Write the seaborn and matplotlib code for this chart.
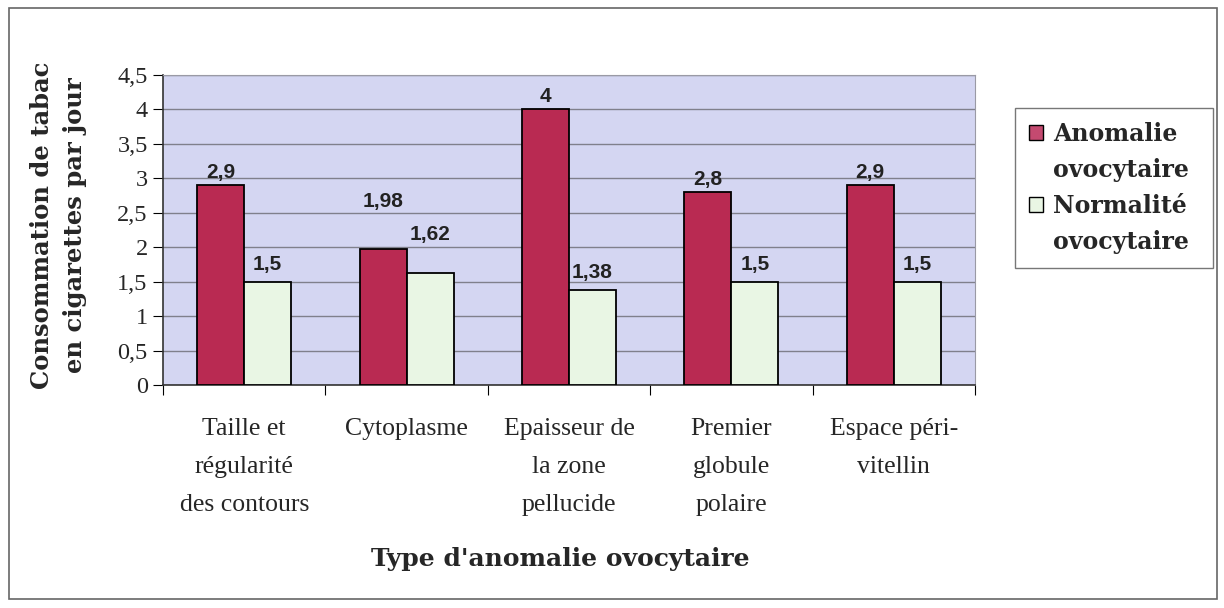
import pandas as pd
import matplotlib.pyplot as plt
import seaborn as sns
from matplotlib.patches import Rectangle, Patch

# data
categories = ['Taille et\nrégularité\ndes contours', 'Cytoplasme', 'Epaisseur de\nla zone\npellucide',
              'Premier\nglobule\npolaire', 'Espace péri-\nvitellin']
anomalie = [2.9, 1.98, 4.0, 2.8, 2.9]
normalite = [1.5, 1.62, 1.38, 1.5, 1.5]
series_names = ['Anomalie\novocytaire', 'Normalité\novocytaire']
y_ticks = [0, 0.5, 1, 1.5, 2, 2.5, 3, 3.5, 4, 4.5]
colors = ['#b92a52', '#e9f6e4']

df = pd.DataFrame({
    'categorie': categories * 2,
    'valeur': anomalie + normalite,
    'serie': [series_names[0]] * len(categories) + [series_names[1]] * len(categories),
})

sns.set_style('white')
plt.rcParams['font.family'] = ['Liberation Serif', 'DejaVu Serif']
bold_serif = 'DejaVu Serif'

fig = plt.figure(figsize=(12.24, 6.08), dpi=100)
ax = fig.add_axes([163 / 1224, 1 - 385 / 608, (975 - 163) / 1224, (385 - 75) / 608])
ax.set_facecolor('#d4d6f2')

sns.barplot(data=df, x='categorie', y='valeur', hue='serie', order=categories,
            hue_order=series_names, palette=colors, saturation=1,
            width=0.58, edgecolor='black', linewidth=1.3, ax=ax, zorder=3, legend=False)

ax.set_ylim(0, 4.5)
ax.set_xlim(-0.5, len(categories) - 0.5)
ax.set_yticks(y_ticks)
ax.set_yticklabels([f'{t:g}'.replace('.', ',') for t in y_ticks], fontsize=17.5)
ax.yaxis.grid(True, color='#80808c', linewidth=1.0, zorder=0)
ax.set_axisbelow(True)

# tick marks at group boundaries, labels at group centres
ax.set_xticks([i - 0.5 for i in range(len(categories) + 1)])
ax.set_xticklabels([])
ax.set_xticks(range(len(categories)), minor=True)
ax.set_xticklabels(categories, minor=True, fontsize=18.5, linespacing=1.92)
ax.tick_params(axis='x', which='major', length=7, direction='out', color='black', bottom=True)
ax.tick_params(axis='x', which='minor', length=0, pad=24)
ax.tick_params(axis='y', length=7, direction='out', color='black', left=True, pad=4)

for side in ['top', 'right']:
    ax.spines[side].set_color('#9a9aa5')
for side in ['left', 'bottom']:
    ax.spines[side].set_color('#333333')
    ax.spines[side].set_linewidth(1.2)

# value labels (a couple of them sit higher in the original)
for k, (cont, vals) in enumerate(zip(ax.containers, [anomalie, normalite])):
    for bar, v in zip(cont, vals):
        txt = f'{v:g}'.replace('.', ',')
        dy = 0.05 if k == 0 else 0.11
        if v == 1.98:
            dy = 0.55
        elif v == 1.62:
            dy = 0.42
        ax.text(bar.get_x() + bar.get_width() / 2, v + dy, txt, ha='center', va='bottom',
                fontsize=15, fontweight='bold', family='Liberation Sans', color='#222222')

ax.set_xlabel("Type d'anomalie ovocytaire", fontsize=18, fontweight='bold', family=bold_serif)
ax.xaxis.set_label_coords((560 - 163) / 812, -(547 - 385) / 310)
ax.set_ylabel('Consommation de tabac\nen cigarettes par jour', fontsize=17.5, fontweight='bold',
              family=bold_serif, linespacing=1.5)
ax.yaxis.set_label_coords(-(163 - 87) / 812, (385 - 225) / 310)

# legend: marker sits next to the first line of each entry
handles, labels = [], []
for name, col in zip(series_names, colors):
    first, second = name.split('\n')
    handles += [Patch(facecolor=col, edgecolor='black', linewidth=1.0),
                Patch(facecolor='none', edgecolor='none')]
    labels += [first, second]
handles[0].set_facecolor('#c44a70')
leg = ax.legend(handles, labels, loc='upper left',
                bbox_to_anchor=(1015 / 1224, 1 - 267 / 608, 198 / 1224, 159 / 608),
                bbox_transform=fig.transFigure, mode='expand', borderaxespad=0,
                frameon=True, fancybox=False,
                prop={'size': 17, 'weight': 'bold', 'family': bold_serif},
                handlelength=0.6, handleheight=0.6, handletextpad=0.4,
                labelspacing=0.5, borderpad=0.6)
leg.get_frame().set_edgecolor('#555555')
leg.get_frame().set_linewidth(1.0)

# outer frame around the whole chart
fig.patches.append(Rectangle((9 / 1224, 9 / 608), 1208 / 1224, 591 / 608, transform=fig.transFigure,
                             fill=False, edgecolor='#666666', linewidth=1.2))

fig.savefig('out.png', dpi=100)
